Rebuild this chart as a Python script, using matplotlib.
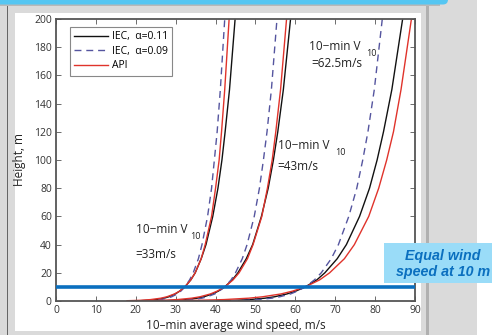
import matplotlib
matplotlib.use("Agg")
import matplotlib.pyplot as plt
from matplotlib.patches import Rectangle, FancyBboxPatch
from matplotlib.transforms import IdentityTransform

plt.rcParams["font.family"] = ["Open Sans", "DejaVu Sans"]

heights = [0.2, 0.5, 1, 2, 3, 5, 7, 10, 15, 20, 30, 40, 60, 80, 100, 120, 150, 200]

# V10 ~ 33 m/s group
iec11_33 = [21.0, 23.2, 25.1, 27.1, 28.3, 29.9, 31.0, 32.3, 33.8, 34.9, 36.4, 37.6, 39.3, 40.6, 41.6, 42.4, 43.5, 44.9]
iec09_33 = [22.7, 24.7, 26.3, 27.9, 29.0, 30.4, 31.3, 32.3, 33.5, 34.4, 35.7, 36.6, 38.0, 39.0, 39.7, 40.4, 41.2, 42.3]
api_33 = [17.8, 21.2, 23.7, 26.3, 27.8, 29.7, 31.0, 32.3, 33.8, 34.9, 36.4, 37.4, 39.0, 40.0, 40.9, 41.5, 42.3, 43.4]

# V10 ~ 43 m/s group
iec11_43 = [27.5, 30.4, 32.8, 35.4, 37.1, 39.2, 40.7, 42.3, 44.2, 45.6, 47.7, 49.3, 51.5, 53.2, 54.5, 55.6, 57.0, 58.8]
iec09_43 = [29.7, 32.3, 34.4, 36.6, 37.9, 39.8, 40.9, 42.3, 43.9, 45.0, 46.7, 47.9, 49.7, 51.0, 52.0, 52.9, 54.0, 55.4]
api_43 = [22.1, 26.8, 30.4, 34.0, 36.1, 38.7, 40.4, 42.3, 44.4, 45.9, 48.0, 49.4, 51.6, 53.0, 54.2, 55.1, 56.3, 57.8]

# V10 ~ 62.5 m/s group
iec11_62 = [40.6, 44.9, 48.5, 52.4, 54.8, 57.9, 60.1, 62.5, 65.4, 67.4, 70.5, 72.8, 76.1, 78.6, 80.5, 82.1, 84.2, 86.9]
iec09_62 = [43.9, 47.8, 50.8, 54.1, 56.1, 58.8, 60.5, 62.5, 64.8, 66.5, 69.0, 70.8, 73.4, 75.4, 76.9, 78.2, 79.8, 81.8]
api_62 = [27.8, 35.9, 42.1, 48.3, 51.8, 56.4, 59.3, 62.5, 66.1, 68.6, 72.3, 74.8, 78.4, 80.9, 82.9, 84.6, 86.5, 89.1]

series_labels = ["IEC,  α=0.11", "IEC,  α=0.09", "API"]
x_ticks = list(range(0, 91, 10))
y_ticks = list(range(0, 201, 20))

BLACK = "#111111"
DASH = "#55559f"
RED = "#e0332b"
BLUE = "#0a6fbf"

W, H = 492, 335
fig = plt.figure(figsize=(W / 100, H / 100), dpi=100)
fig.patch.set_facecolor("#dadada")
px = IdentityTransform()


def box(x0, y0, x1, y1, color, zorder=-2):
    # pixel box measured from the top-left corner
    fig.add_artist(Rectangle((x0, H - y1), x1 - x0, y1 - y0, transform=px,
                             facecolor=color, edgecolor="none", zorder=zorder))


box(15, 13, 421, 331, "white")
box(477, 0, W, H, "white")
box(6.5, 5, 8, H, "#666666")
box(426, 5, 428.5, H, "#b0b0b0")
box(0, 4, 440, 5.5, "#b8b8b8")
fig.add_artist(FancyBboxPatch((-20, H - 4.5), 468, 20, transform=px,
                              boxstyle="round,pad=0,rounding_size=5",
                              facecolor="#55c6f2", edgecolor="none", zorder=-1))

ax = fig.add_axes([56 / W, 1 - 301 / H, (415 - 56) / W, (301 - 19) / H])
ax.set_facecolor("white")

groups = [(iec11_33, iec09_33, api_33), (iec11_43, iec09_43, api_43),
          (iec11_62, iec09_62, api_62)]
for i, (a, b, c) in enumerate(groups):
    ax.plot(a, heights, color=BLACK, lw=1.0, label=series_labels[0] if i == 0 else None)
    ax.plot(b, heights, color=DASH, lw=1.0, dashes=(5, 3.5),
            label=series_labels[1] if i == 0 else None)
    ax.plot(c, heights, color=RED, lw=1.0, label=series_labels[2] if i == 0 else None)

ax.axhline(10, color=BLUE, lw=2.6, zorder=5)

ax.set_xlim(0, 90)
ax.set_ylim(0, 200)
ax.set_xticks(x_ticks)
ax.set_yticks(y_ticks)
ax.tick_params(direction="in", length=3.5, width=0.6, top=True, right=True,
               labelsize=7.5, labelcolor="#333333", color="#555555", pad=3)
for s in ax.spines.values():
    s.set_color("#555555")
    s.set_linewidth(1.3)

ax.set_xlabel("10–min average wind speed, m/s", fontsize=8.5, color="#222222", labelpad=2)
ax.set_ylabel("Height, m", fontsize=8.5, color="#222222", labelpad=6)

leg = ax.legend(loc="upper left", bbox_to_anchor=(0.025, 0.99), fontsize=7.5,
                handlelength=3.2, handletextpad=0.4, borderpad=0.4,
                labelspacing=0.35, fancybox=False, framealpha=1)
leg.get_frame().set_edgecolor("#888888")
leg.get_frame().set_linewidth(0.8)

fs, sub = 8.5, 6.5
notes = [(20.0, 50.4, 33.7, 45.4, 20.0, 33.3, "=33m/s"),
         (55.6, 110.6, 69.9, 105.2, 55.6, 95.2, "=43m/s"),
         (63.5, 180.4, 77.7, 175.7, 64.1, 168.6, "=62.5m/s")]
for x1, y1, xs, ys, x2, y2, txt in notes:
    ax.text(x1, y1, "10−min V", fontsize=fs, va="center", color="#222222")
    ax.text(xs, ys, "10", fontsize=sub, va="center", color="#222222")
    ax.text(x2, y2, txt, fontsize=fs, va="center", color="#222222")

box(384, 243, W, 283, "#9adcf8", zorder=10)
fig.text(443 / W, 1 - 264 / H, "Equal wind\nspeed at 10 m", ha="center", va="center",
         multialignment="center", fontsize=10.3, fontweight="bold", style="italic",
         color=BLUE, family=["Liberation Sans", "DejaVu Sans"], linespacing=1.15,
         zorder=11)

fig.savefig("out.png", dpi=100, facecolor=fig.get_facecolor())
